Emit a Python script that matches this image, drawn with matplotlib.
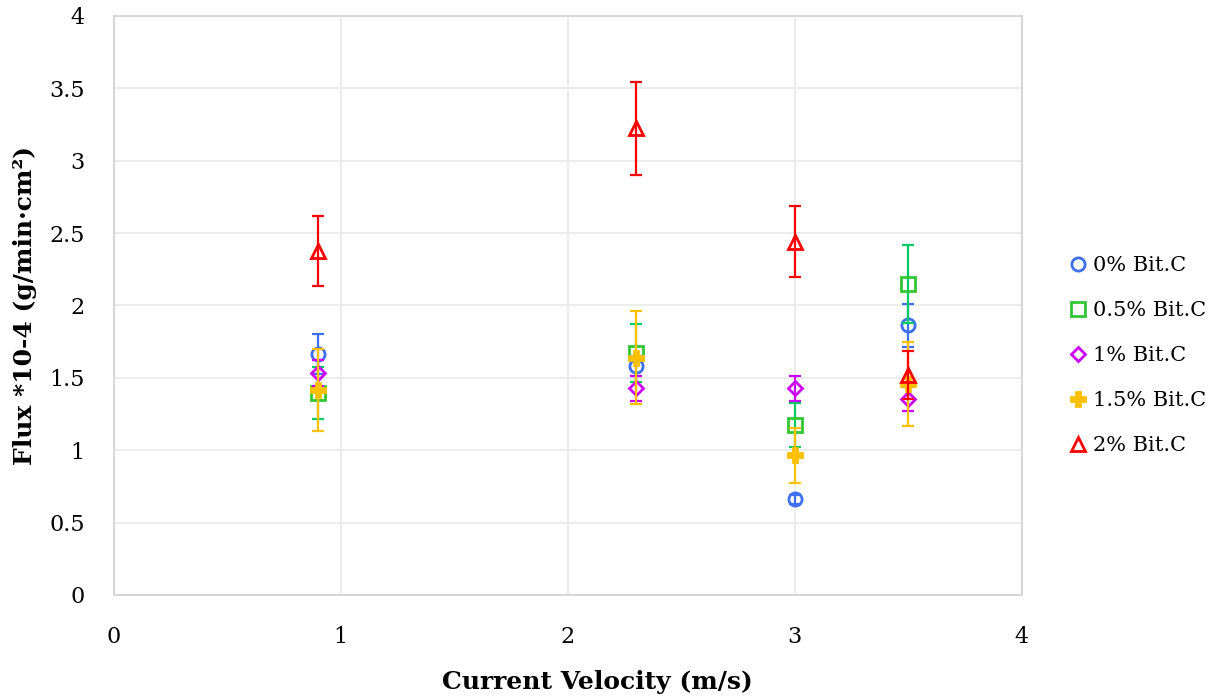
import matplotlib
matplotlib.use("Agg")
from matplotlib import pyplot as plt
import numpy as np

velocity = [0.9, 2.3, 3.0, 3.5]

labels = ['0% Bit.C', '0.5% Bit.C', '1% Bit.C', '1.5% Bit.C', '2% Bit.C']

flux_0 = [1.665, 1.584, 0.661, 1.863]
err_0 = [0.135, 0.07, 0.03, 0.148]

flux_05 = [1.393, 1.67, 1.174, 2.146]
err_05 = [0.18, 0.20, 0.155, 0.27]

flux_1 = [1.534, 1.428, 1.428, 1.352]
err_1 = [0.09, 0.085, 0.085, 0.082]

flux_15 = [1.416, 1.64, 0.967, 1.458]
err_15 = [0.28, 0.32, 0.19, 0.29]

flux_2 = [2.376, 3.224, 2.441, 1.52]
err_2 = [0.24, 0.32, 0.245, 0.166]

series = [flux_0, flux_05, flux_1, flux_15, flux_2]
errors = [err_0, err_05, err_1, err_15, err_2]
markers = ['o', 's', 'D', 'P', '^']
mcolors = ['#3d6ff0', '#33c633', '#cc00ff', '#ffc000', '#ff0000']
ecolors = ['#3d6ff0', '#00cc66', '#cc00ff', '#ffc000', '#ff0000']
msizes = [9.5, 9.5, 7.5, 9.5, 9.5]

plt.rcParams['font.family'] = 'DejaVu Serif'

fig = plt.figure(figsize=(12.25, 6.98), dpi=100)
ax = fig.add_axes([0.093, 0.1476, 0.741, 0.8295])

for i in range(len(series)):
	ax.errorbar(velocity, series[i], yerr=errors[i], fmt='none', ecolor=ecolors[i],
		elinewidth=1.6, capsize=4.5, capthick=1.6, zorder=2 + i)
	mfc = mcolors[i] if markers[i] == 'P' else 'none'
	ax.plot(velocity, series[i], linestyle='none', marker=markers[i], markersize=msizes[i],
		markerfacecolor=mfc, markeredgecolor=mcolors[i], markeredgewidth=2,
		label=labels[i], zorder=2.5 + i)

ax.set_xlim(0, 4)
ax.set_ylim(0, 4)
ax.set_xticks(np.arange(0, 5, 1))
ax.set_yticks(np.arange(0, 4.5, 0.5))
ax.set_yticklabels(['0', '0.5', '1', '1.5', '2', '2.5', '3', '3.5', '4'])

ax.tick_params(length=0, labelsize=16)
ax.tick_params(axis='x', pad=22)
ax.tick_params(axis='y', pad=21)

ax.grid(True, color='#ebebeb', linewidth=1.3)
ax.set_axisbelow(True)
for sp in ax.spines.values():
	sp.set_color('#d4d4d4')
	sp.set_linewidth(1.3)

ax.set_xlabel('Current Velocity (m/s)', fontsize=18, fontweight='bold', labelpad=16)
ax.xaxis.label.set_x(0.533)
ax.set_ylabel('Flux *10-4 (g/min\u00b7cm\u00b2)', fontsize=18, fontweight='bold', labelpad=9)

ax.legend(loc='center left', bbox_to_anchor=(1.03, 0.413), frameon=False, fontsize=15,
	handletextpad=0.2, handlelength=1.0, labelspacing=1.25)

plt.savefig('out.png', dpi=100)
